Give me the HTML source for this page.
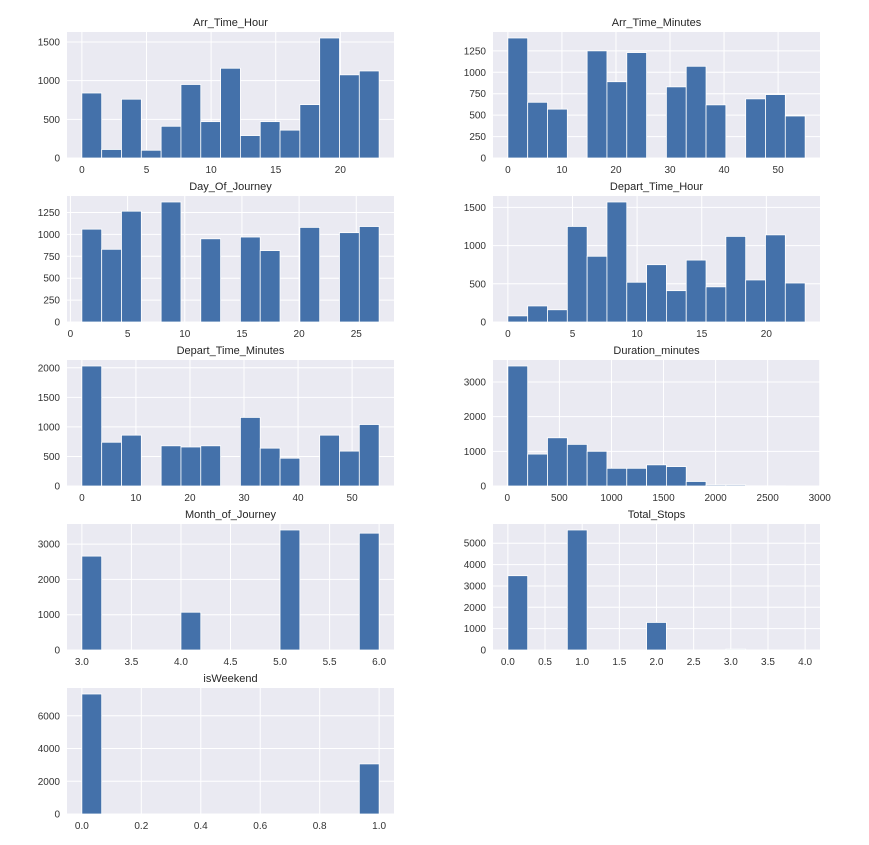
<!DOCTYPE html>
<html><head><meta charset="utf-8"><style>
body{margin:0;background:#fff;}
svg{display:block;font-family:"Liberation Sans","DejaVu Sans",sans-serif;}
</style></head><body>
<svg id="chart" width="869" height="845" viewBox="0 0 869 845"></svg>
<script>
const titles = ["Arr_Time_Hour","Arr_Time_Minutes","Day_Of_Journey","Depart_Time_Hour","Depart_Time_Minutes","Duration_minutes","Month_of_Journey","Total_Stops","isWeekend"];
const dataMin = [0,0,1,0,0,5,3,0,0];
const dataMax = [23,55,27,23,55,2860,6,4,1];
const counts = [
 [840,110,760,100,410,950,470,1160,290,470,360,690,1551,1075,1125],
 [1400,650,570,0,1250,890,1230,0,830,1070,620,0,690,740,490],
 [1060,830,1265,0,1370,0,950,0,970,815,0,1080,0,1020,1090],
 [80,210,160,1250,860,1570,520,750,410,810,460,1120,550,1140,510],
 [2030,740,860,0,680,660,680,0,1160,640,470,0,860,590,1040],
 [3460,920,1390,1200,1000,510,510,610,560,130,30,30,5,5,3],
 [2660,0,0,0,0,1070,0,0,0,0,3400,0,0,0,3310],
 [3480,0,0,5620,0,0,0,1290,0,0,0,40,0,0,2],
 [7330,0,0,0,0,0,0,0,0,0,0,0,0,0,3060]
];
const yTicks = [
 [0,500,1000,1500],[0,250,500,750,1000,1250],[0,250,500,750,1000,1250],[0,500,1000,1500],
 [0,500,1000,1500,2000],[0,1000,2000,3000],[0,1000,2000,3000],[0,1000,2000,3000,4000,5000],[0,2000,4000,6000]
];
const xTicks = [
 [0,5,10,15,20],[0,10,20,30,40,50],[0,5,10,15,20,25],[0,5,10,15,20],[0,10,20,30,40,50],
 [0,500,1000,1500,2000,2500,3000],[3,3.5,4,4.5,5,5.5,6],[0,0.5,1,1.5,2,2.5,3,3.5,4],[0,0.2,0.4,0.6,0.8,1]
];
const xDecimals = [0,0,0,0,0,0,1,1,1];

const NS="http://www.w3.org/2000/svg";
const svg=document.getElementById('chart');
function mk(tag,attrs,parent){const e=document.createElementNS(NS,tag);for(const k in attrs)e.setAttribute(k,attrs[k]);(parent||svg).appendChild(e);return e;}
const colX=[67,493], W=327, rowY=[32,196,360,524,688], H=126;

titles.forEach((title,i)=>{
  const px=colX[i%2], py=rowY[Math.floor(i/2)];
  const g=mk('g',{});
  
  
  const lo=dataMin[i], hi=dataMax[i], rng=hi-lo;
  const x0=lo-0.05*rng, x1=hi+0.05*rng;
  const ymax=Math.max(...counts[i])*1.05;
  const sx=v=>px+(v-x0)/(x1-x0)*W;
  const sy=v=>py+H-v/ymax*H;
  const bg=mk('rect',{x:px,y:py,width:W,height:H,fill:'#eaeaf2'},g);
  
  
  xTicks[i].forEach(t=>{
    const x=sx(t);
    const l=mk('line',{x1:x,x2:x,y1:py,y2:py+H,stroke:'#fff','stroke-width':1},g);
    
    
    const tx=mk('text',{x:x,y:py+H+15,'text-anchor':'middle','font-size':10,fill:'#333'},g);
    
    
    tx.textContent=t.toFixed(xDecimals[i]);
  });
  yTicks[i].forEach(t=>{
    const y=sy(t);
    const l=mk('line',{x1:px,x2:px+W,y1:y,y2:y,stroke:'#fff','stroke-width':1},g);
    
    
    const tx=mk('text',{x:px-7,y:y+3.5,'text-anchor':'end','font-size':10,fill:'#333'},g);
    
    
    tx.textContent=t;
  });
  const n=counts[i].length, bw=rng/n;
  counts[i].forEach((c,k)=>{
    if(c<=0)return;
    const a=sx(lo+k*bw), b=sx(lo+(k+1)*bw);
    const r=mk('rect',{x:a,y:sy(c),width:b-a,height:sy(0)-sy(c),fill:'#4471aa',stroke:'#fff','stroke-width':0.8},g);
    
    
  });
  const tt=mk('text',{x:px+W/2,y:py-6,'text-anchor':'middle','font-size':11,fill:'#262626'},g);
  
  
  tt.textContent=title;
});
</script>
</body></html>
